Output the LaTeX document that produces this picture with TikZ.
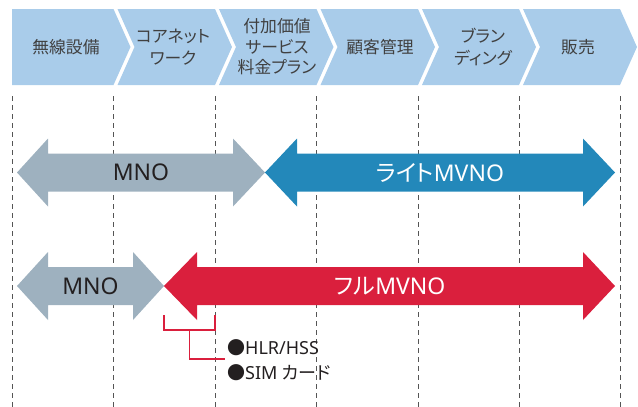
\documentclass[tikz,border=0pt]{standalone}
\usepackage{fontspec}
\setmainfont{Noto Sans}
\newfontfamily\jp[RawFeature={+palt}]{Noto Sans CJK JP}
\definecolor{chev}{HTML}{A9CCEA}
\definecolor{mnogray}{HTML}{9EB1BF}
\definecolor{liteblue}{HTML}{2388BA}
\definecolor{fullred}{HTML}{DA1F3D}
\definecolor{txt}{HTML}{404040}
\definecolor{dark}{HTML}{231F20}
\definecolor{dashc}{HTML}{555555}
\tikzset{
  head/.style={text=txt, align=center, font=\jp\fontsize{16.8}{22.5}\selectfont, inner sep=0pt},
  headthree/.style={text=txt, align=center, font=\jp\fontsize{16.8}{20.5}\selectfont, inner sep=0pt},
  dashline/.style={draw=dashc, line width=0.9pt, dash pattern=on 5pt off 4pt},
  arrlabel/.style={font=\fontsize{23}{26}\selectfont, inner sep=0pt},
  bracket/.style={draw=fullred, line width=1.3pt},
  note/.style={text=dark, font=\fontsize{18}{22}\selectfont, inner sep=0pt, anchor=west}
}
\begin{document}
\begin{tikzpicture}[x=1pt,y=-1pt]
\useasboundingbox (0,0) rectangle (638,407);
% chevrons
\fill[chev] (12,9) -- (113.5,9) -- (130.5,47) -- (113.5,85) -- (12,85) -- cycle;
\foreach \xl/\xr in {117.5/215, 219/316.5, 320.5/418, 422/519, 523/620}
  \fill[chev] (\xl,9) -- (\xr,9) -- (\xr+17,47) -- (\xr,85) -- (\xl,85) -- (\xl+17,47) -- cycle;
\node[head] (c1) at (66,47) {無線設備};
\node[head] (c2) at (173,47) {コアネット\\ワーク};
\node[headthree] (c3) at (277,47) {付加価値\\サービス\\料金プラン};
\node[head] (c4) at (380,47) {顧客管理};
\node[head] (c5) at (483,47) {ブラン\\ディング};
\node[head] (c6) at (578,47) {販売};
% dashed guides
\foreach \x in {12,113.5,215,316.5,418,519,620}
  \draw[dashline] (\x,96) -- (\x,407);
% row 1 arrows
\fill[mnogray] (17,172.5) -- (48,138.5) -- (48,153.5) -- (233,153.5) -- (233,138.5) -- (265,172.5) -- (233,206.5) -- (233,191.5) -- (48,191.5) -- (48,206.5) -- cycle;
\fill[liteblue] (265,172.5) -- (297,138.5) -- (297,153.5) -- (583,153.5) -- (583,138.5) -- (615,172.5) -- (583,206.5) -- (583,191.5) -- (297,191.5) -- (297,206.5) -- cycle;
\node[arrlabel, text=dark] (mno1) at (141,172.5) {MNO};
\node[arrlabel, text=white] (lite) at (440,172.5) {{\jp ライト}MVNO};
% row 2 arrows
\fill[mnogray] (17,286) -- (48,252) -- (48,267) -- (133,267) -- (133,252) -- (164,286) -- (133,320) -- (133,305) -- (48,305) -- (48,320) -- cycle;
\fill[fullred] (164,286) -- (197,252) -- (197,267) -- (583,267) -- (583,252) -- (615,286) -- (583,320) -- (583,305) -- (197,305) -- (197,320) -- cycle;
\node[arrlabel, text=dark] (mno2) at (90.5,286) {MNO};
\node[arrlabel, text=white] (full) at (390,286) {{\jp フル}MVNO};
% notes
\node[note] (hlr) at (227,348) {{\jp ●}HLR/HSS};
\node[note] (sim) at (227,373) {{\jp ●}SIM {\jp カード}};
% bracket
\coordinate (bl) at (164,315);
\coordinate (br) at (215,315);
\coordinate (stemtop) at (189.5,330);
\coordinate (stemend) at (225,359);
\draw[bracket] (bl) |- (215,330) -- (br);
\draw[bracket] (stemtop) |- (stemend);
\end{tikzpicture}
\end{document}
